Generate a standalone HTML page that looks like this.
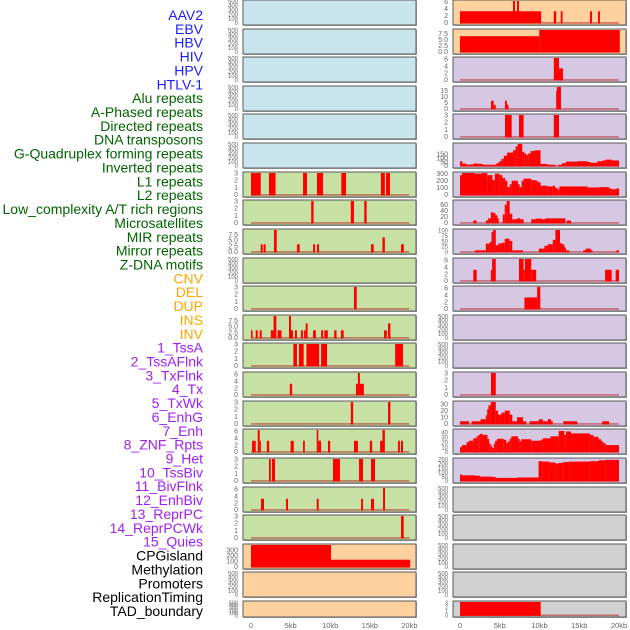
<!DOCTYPE html>
<html><head><meta charset="utf-8">
<style>
html,body{margin:0;padding:0;background:#fff;}
svg{display:block;font-family:"Liberation Sans",sans-serif;}
</style></head>
<body>
<svg id="chart" width="630" height="630" viewBox="0 0 630 630" xmlns="http://www.w3.org/2000/svg">
<g id="labels"></g>
<g id="panels"></g>
<g id="xaxes"></g>
</svg>
<script>
// ---- labels ----
const labelTexts = ["AAV2","EBV","HBV","HIV","HPV","HTLV-1","Alu repeats","A-Phased repeats","Directed repeats","DNA transposons","G-Quadruplex forming repeats","Inverted repeats","L1 repeats","L2 repeats","Low_complexity A/T rich regions","Microsatellites","MIR repeats","Mirror repeats","Z-DNA motifs","CNV","DEL","DUP","INS","INV","1_TssA","2_TssAFlnk","3_TxFlnk","4_Tx","5_TxWk","6_EnhG","7_Enh","8_ZNF_Rpts","9_Het","10_TssBiv","11_BivFlnk","12_EnhBiv","13_ReprPC","14_ReprPCWk","15_Quies","CPGisland","Methylation","Promoters","ReplicationTiming","TAD_boundary"];
const labelGroups = [6,13,5,15,5];
const groupColors = ["#1c1cff","#006400","#ffa500","#a020f0","#000000"];

// ---- x axis ----
const xTicks = [0,5,10,15,20];
const xTickLabels = ["0","5kb","10kb","15kb","20kb"];

// ---- tick sets ----
const ticksEmpty = [0,100,200,300,400,500];
const ticks3 = [0,1,2,3];
const ticks6 = [0,2,4,6];
const ticks75 = [0,2.5,5,7.5];

// ---- left column data: [startKb, endKb, value] ----
const L6 = [[0,1.23,3],[2.27,3.1,3],[6.57,7.07,3],[8.33,9.1,3],[11.4,12,3],[16.4,16.9,3],[17.05,17.55,3]];
const L7 = [[7.6,7.9,3],[12.6,13,3],[14.3,14.6,3]];
const L8 = [[1.22,1.48,3.3],[1.6,1.85,3.3],[2.9,3.25,9.5],[5.8,6.15,3.3],[7.83,8.08,3.3],[8.33,8.6,3.3],[15.15,15.5,3.3],[16.6,16.9,6.3],[18.94,19.3,3.3]];
const L10 = [[13,13.35,3]];
const L11 = [[0,0.2,3.3],[0.6,0.85,3.3],[1.1,1.35,3.3],[2.5,2.85,3.3],[2.85,3.2,9.5],[3.35,3.85,3.3],[4.8,5.05,9.5],[5.05,5.3,3.3],[5.55,5.8,3.3],[6.3,6.55,3.3],[6.7,6.9,3.3],[6.9,7.15,6.3],[7.83,8.2,3.3],[8.85,9.1,3.3],[9.25,9.7,3.3],[10.5,10.8,3.3],[11.35,11.7,3.3],[16.8,17.15,3.3],[17.3,17.6,6.3]];
const L12 = [[5.35,5.8,3],[6.05,6.65,3],[7,8.6,3],[8.85,9.6,3],[18.2,19.2,3]];
const L13 = [[4.9,5.2,3.2],[13.25,13.5,3.2],[13.5,13.75,6.3],[13.75,14.25,3.2]];
const L14 = [[12.6,12.9,3],[17.3,17.6,3]];
const L15 = [[0.13,0.6,3.2],[0.85,1.1,6.3],[1.1,1.25,3.2],[2.0,2.3,3.2],[5.0,5.4,3.2],[6.57,6.8,3.2],[8.3,8.5,6.3],[8.5,8.85,3.2],[9.72,10,3.2],[13,13.5,3.2],[15,15.3,3.2],[16.3,16.6,3.2],[16.6,16.9,6.3],[18.55,18.8,3.2],[18.94,19.2,3.2]];
const L16 = [[2.27,2.5,3],[2.65,3.03,3],[10.35,11.24,3],[13.64,14.14,3],[15.15,15.66,3]];
const L17 = [[1.26,1.64,3.2],[4.42,4.67,3.2],[8.3,8.55,3.2],[13.9,14.14,3.2],[15.15,15.53,3.2],[16.67,16.92,6.3]];
const L18 = [[18.94,19.28,3]];
const L19 = [[0,10.1,395],[10.1,20.1,130]];

// ---- right column data ----
const R0 = [[0,10.2,3.3],[6.67,6.92,6.2],[7.17,7.42,6.2],[11.8,12.1,3.3],[12.67,12.9,3.3],[16.35,16.6,3.3],[17.36,17.6,3.3]];
const R1 = [[0,9.97,6.45],[9.97,20.1,9]];
const R2 = [[11.8,12.45,6.3],[12.45,12.95,3.3]];
const R3 = [[3.9,4.24,6.7],[4.24,4.5,3.3],[5.66,5.9,6.7],[5.9,6.1,3.5],[12.1,12.2,15],[12.2,12.7,18]];
const R4 = [[5.66,6.5,3],[7.42,8,3],[11.8,12.45,3]];
// profiles: [startKb, value]; each step ends at next start
const R5 = [[0,60],[0.29,30],[0.75,18],[1.67,30],[2.29,25],[2.92,15],[4.58,35],[4.92,60],[5.21,90],[5.5,130],[5.92,170],[6.67,200],[7,250],[7.25,280],[7.83,180],[8.08,160],[8.33,140],[8.58,160],[8.88,190],[9.38,200],[10.13,25],[11.04,15],[12,0],[12.38,15],[12.83,35],[13.33,55],[14.79,60],[16.04,50],[16.46,40],[17.29,60],[17.92,70],[18.33,80],[19.08,70],[20,0]];
const R6 = [[0,280],[0.25,310],[1.88,300],[2.71,310],[3.42,280],[4.08,210],[4.38,300],[5,280],[5.33,240],[5.67,200],[5.96,110],[6.25,150],[6.5,200],[7.29,150],[7.5,110],[7.75,200],[8,230],[8.96,210],[9.5,200],[9.79,180],[10.13,130],[11.04,120],[11.67,130],[11.96,100],[12.29,80],[12.5,120],[16.04,105],[17.5,110],[18.75,90],[19.08,80],[19.58,90],[20,0]];
const R7 = [[0,0],[1.67,8],[2.08,0],[3.25,8],[3.54,15],[3.88,35],[4.17,33],[4.46,25],[4.71,15],[4.88,0],[5.38,28],[5.63,60],[5.88,72],[6.25,30],[6.58,12],[7.17,15],[7.58,12],[8,0],[8.96,12],[9.5,14],[10.33,12],[10.75,15],[13.25,0],[13.42,8],[13.96,0],[20,0]];
const R8 = [[0,0],[1.88,7],[3.25,38],[3.75,45],[3.96,90],[4.17,100],[4.5,30],[4.79,38],[5.21,42],[5.63,60],[6.25,50],[6.58,7],[7.92,0],[9.92,15],[10.63,28],[11.04,35],[11.67,55],[12,100],[12.58,40],[12.83,35],[13.13,20],[13.33,7],[13.75,0],[15.5,8],[15.83,15],[16.46,7],[16.67,0],[19.67,7],[20,0]];
const R9 = [[1.67,2.1,3.2],[3.88,4.04,3.2],[4.04,4.5,6.3],[7.42,8,6.3],[8,8.17,3.2],[8.17,8.96,6.3],[8.96,9.58,3.2],[18.25,19.08,3.2],[19.58,20,3.2]];
const R10 = [[8.1,9.7,3.3],[9.7,10.1,6.3]];
const R13 = [[3.9,4.5,3]];
const R14 = [[0,4],[1.13,0],[1.46,4],[2.58,7],[3.25,13],[3.42,22],[3.58,28],[3.88,33],[4.5,20],[4.79,14],[5.21,17],[5.63,20],[6.25,14],[6.58,4],[7.17,10],[7.92,4],[8.33,0],[8.75,4],[9.92,7],[10.42,4],[11.04,7],[11.46,4],[11.67,0],[13,4],[14.75,0],[17.88,4],[18.75,0],[20,0]];
const R15 = [[0,10],[0.25,14],[0.83,20],[1.13,23],[1.67,28],[2.08,32],[2.29,35],[2.5,37],[2.83,35],[3.46,27],[3.67,17],[3.88,12],[4.08,8],[4.25,17],[4.42,23],[4.67,27],[5.5,25],[5.83,19],[6.04,22],[6.25,27],[6.46,32],[7.29,27],[7.5,22],[7.71,26],[8.96,23],[10.13,25],[10.42,28],[11.38,32],[12.42,43],[13.13,35],[13.33,42],[13.96,38],[16.33,35],[16.75,31],[17.42,26],[17.75,22],[18,18],[18.33,14],[20,0]];
const R16 = [[0,75],[0.25,65],[1.88,60],[2.5,50],[4.08,45],[4.5,35],[7.17,40],[9.88,230],[10.33,225],[11.25,215],[11.88,210],[12.08,200],[12.38,210],[13,220],[13.75,225],[16.33,230],[17.42,240],[18.33,245],[20,0]];
const R21 = [[0,10.15,3]];

const fills = {blue:"#c8e4ec",green:"#c7e1a5",orange:"#ffd19f",purple:"#d6c7e2",grey:"#d0d0d0"};

const leftCol = [
 ["blue",null,ticksEmpty,500],["blue",null,ticksEmpty,500],["blue",null,ticksEmpty,500],
 ["blue",null,ticksEmpty,500],["blue",null,ticksEmpty,500],["blue",null,ticksEmpty,500],
 ["green",L6,ticks3,3],["green",L7,ticks3,3],["green",L8,ticks75,9.5],["green",null,ticksEmpty,500],
 ["green",L10,ticks3,3],["green",L11,ticks75,9.5],["green",L12,ticks3,3],["green",L13,ticks6,6.3],
 ["green",L14,ticks3,3],["green",L15,ticks6,6.3],["green",L16,ticks3,3],["green",L17,ticks6,6.3],
 ["green",L18,ticks3,3],["orange",L19,[0,100,200,300],395],["orange",null,ticksEmpty,500],["orange",null,ticksEmpty,500]
];
const rightCol = [
 ["orange",R0,ticks6,6.2],["orange",R1,ticks75,9],["purple",R2,ticks6,6.3],["purple",R3,[0,5,10,15],18],
 ["purple",R4,ticks3,3],["purple",R5,[0,50,100,150],280,true],["purple",R6,[0,100,200,300],310,true],
 ["purple",R7,[0,20,40,60],72,true],["purple",R8,[0,25,50,75,100],100,true],["purple",R9,ticks6,6.3],
 ["purple",R10,ticks6,6.3],["purple",null,ticksEmpty,500],["purple",null,ticksEmpty,500],["purple",R13,ticks3,3],
 ["purple",R14,[0,10,20,30],33,true],["purple",R15,[0,10,20,30,40],45,true],["purple",R16,[0,50,100,150,200,250],255,true],
 ["grey",null,ticksEmpty,500],["grey",null,ticksEmpty,500],["grey",null,ticksEmpty,500],["grey",null,ticksEmpty,500],["grey",R21,ticks3,3]
];

const NS = "http://www.w3.org/2000/svg";
function mk(tag, attrs, parent){
  const e = document.createElementNS(NS, tag);
  for (const k in attrs) e.setAttribute(k, attrs[k]);
  parent.appendChild(e);
  return e;
}

// labels
const gl = document.getElementById('labels');
let li = 0;
labelGroups.forEach((n, gi) => {
  for (let j = 0; j < n; j++, li++) {
    const t = mk('text', {x:203, y:(15 + li*13.86 + 5).toFixed(1), 'text-anchor':'end', 'font-size':'14', fill:groupColors[gi]}, gl);
    t.textContent = labelTexts[li];
    
    
  }
});

const cols = [{data:leftCol, bx:243, bw:173, x0:251, k:7.92, tx:238, name:'left'},
              {data:rightCol, bx:453, bw:173, x0:460, k:7.95, tx:448, name:'right'}];
const gp = document.getElementById('panels');
const gx = document.getElementById('xaxes');

cols.forEach(col => {
  const xs = kb => col.x0 + kb*col.k;
  col.data.forEach((p, r) => {
    const [fillKey, data, ticks, hi, isProfile] = p;
    const top = Math.round(r*28.62);
    const H = r === 21 ? 16 : 25;
    const lo = -0.05*hi;
    const ys = v => top + 1 + (H-2)*(1 - (v - lo)/(hi - lo));
    const g = mk('g', {}, gp);
    
    
    mk('rect', {x:col.bx+1, y:top+1, width:col.bw, height:H, fill:'#aaa'}, g);
    const bg = mk('rect', {x:col.bx, y:top, width:col.bw, height:H, fill:fills[fillKey], stroke:'#5a5a5a', 'stroke-width':1}, g);
    
    
    // ticks
    const fs = H < 20 ? 5.5 : (ticks.length > 4 ? 6 : 7);
    ticks.forEach(tv => {
      const lab = mk('text', {x:col.tx, y:(ys(tv)+2.3).toFixed(1), 'text-anchor':'end', 'font-size':fs, fill:'#666'}, g);
      const dec = ticks.some(v => v % 1 !== 0);
      lab.textContent = dec ? tv.toFixed(1) : String(tv);
      
      
    });
    if (!data) return;
    // baseline
    const bl = mk('line', {x1:xs(0), x2:xs(20), y1:ys(0), y2:ys(0), stroke:'rgba(185,30,30,0.55)', 'stroke-width':1.6}, g);
    
    
    let segs = data;
    if (isProfile) {
      segs = [];
      for (let i = 0; i < data.length - 1; i++) segs.push([data[i][0], data[i+1][0], data[i][1]]);
    }
    segs.forEach(s => {
      if (s[2] <= 0) return;
      const x1 = xs(s[0]), x2 = xs(s[1]);
      const y1 = ys(s[2]), y0 = ys(0);
      const b = mk('rect', {x:x1.toFixed(2), y:y1.toFixed(2), width:Math.max(1.2, x2-x1).toFixed(2), height:(y0-y1+0.5).toFixed(2), fill:'#ff0000'}, g);
      
      
    });
  });
  xTicks.forEach((t, i) => {
    const lab = mk('text', {x:xs(t), y:628, 'text-anchor':'middle', 'font-size':7.5, fill:'#666'}, gx);
    lab.textContent = xTickLabels[i];
    
    
  });
});
</script>
</body></html>
